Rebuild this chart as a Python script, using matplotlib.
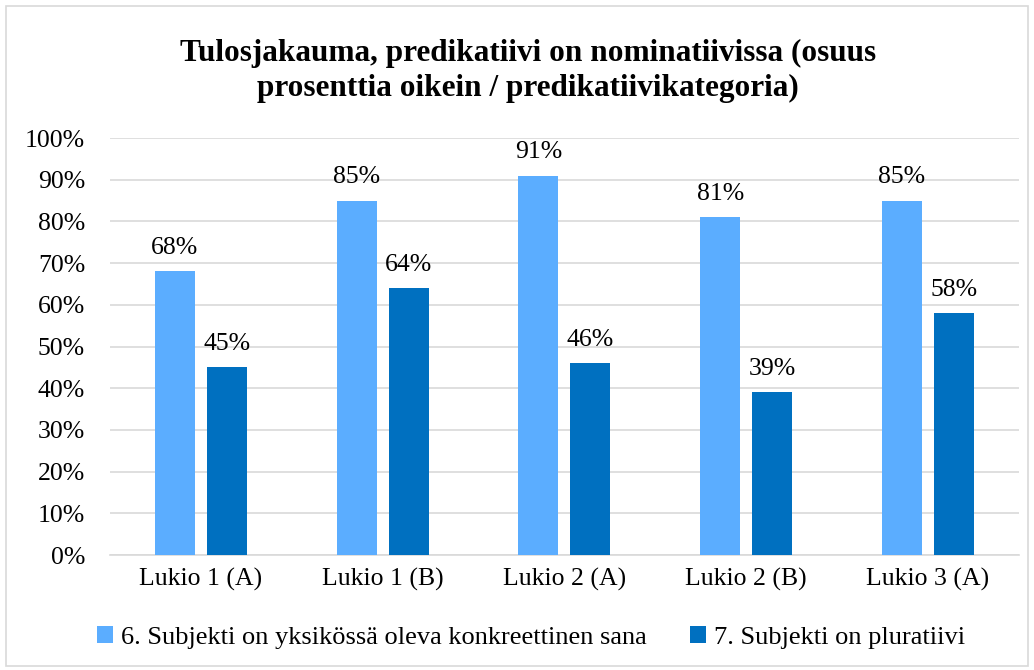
import matplotlib.pyplot as plt
import numpy as np
from matplotlib.patches import Rectangle

plt.rcParams['font.family'] = ['Liberation Serif', 'DejaVu Serif']

categories = ['Lukio 1 (A)', 'Lukio 1 (B)', 'Lukio 2 (A)', 'Lukio 2 (B)', 'Lukio 3 (A)']
subj_sing = [68, 85, 91, 81, 85]
subj_plur = [45, 64, 46, 39, 58]
series_names = ['6. Subjekti on yksikössä oleva konkreettinen sana',
                '7. Subjekti on pluratiivi']
colors = ['#5BADFF', '#0070C0']

fig = plt.figure(figsize=(10.34, 6.7), dpi=100)
ax = fig.add_axes([0.1064, 0.1716, 0.879, 0.6224])

x = np.arange(len(categories))
w = 0.22
off = 0.143
b1 = ax.bar(x - off, subj_sing, w, color=colors[0], label=series_names[0], zorder=3)
b2 = ax.bar(x + off, subj_plur, w, color=colors[1], label=series_names[1], zorder=3)

for bars, vals in ((b1, subj_sing), (b2, subj_plur)):
    for b, v in zip(bars, vals):
        ax.text(b.get_x() + b.get_width() / 2, v + 2.9, f'{v}%', ha='center', va='bottom',
                fontsize=18.5)

ax.set_xlim(-0.5, len(categories) - 0.5)
ax.set_ylim(0, 100)
ax.set_yticks(range(0, 101, 10))
ax.set_yticklabels([f'{t}%' for t in range(0, 101, 10)], fontsize=18.5)
ax.set_xticks(x)
ax.set_xticklabels(categories, fontsize=18.5)
ax.tick_params(axis='y', length=0, pad=18)
ax.tick_params(axis='x', length=0, pad=9)
ax.grid(axis='y', color='#D9D9D9', linewidth=1.2, zorder=0)
for s in ['top', 'right', 'left']:
    ax.spines[s].set_visible(False)
ax.spines['bottom'].set_color('#D9D9D9')
ax.spines['bottom'].set_linewidth(1.2)

fig.text(0.511, 0.894, 'Tulosjakauma, predikatiivi on nominatiivissa (osuus\nprosenttia oikein / predikatiivikategoria)',
         ha='center', va='center', fontsize=22.5, fontweight='bold', linespacing=1.3)

fig.legend(handles=[b1, b2], loc='center', bbox_to_anchor=(0.5135, 0.048), ncol=2,
           frameon=False, fontsize=19, handlelength=0.6, handleheight=0.6,
           handletextpad=0.3, columnspacing=1.65)

fig.patches.append(Rectangle((0.006, 0.006), 0.988, 0.985, transform=fig.transFigure,
                             fill=False, edgecolor='#D9D9D9', linewidth=1.2))

fig.savefig('out.png', dpi=100)
